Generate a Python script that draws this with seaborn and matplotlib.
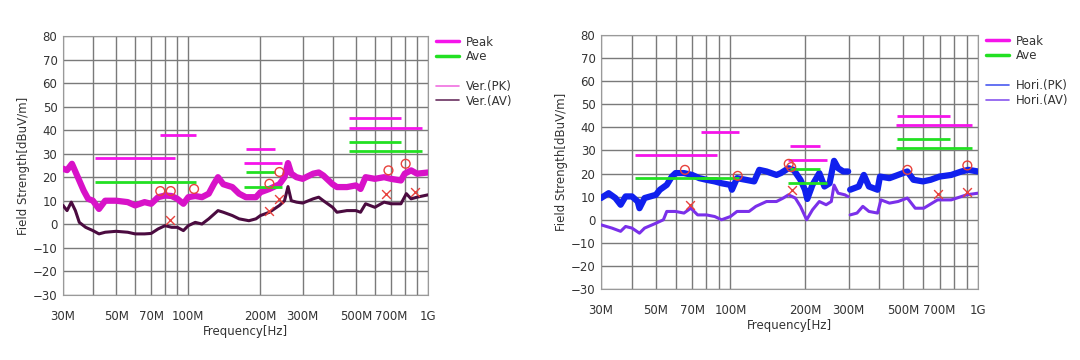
import numpy as np
import pandas as pd
import seaborn as sns
import matplotlib.pyplot as plt
from matplotlib.lines import Line2D

# ---- limit lines (MHz start, MHz stop, dBuV/m) ----
peak_lim_start = [41, 76, 174, 171, 470, 468]
peak_lim_stop = [88, 108, 230, 245, 770, 944]
peak_lim_level = [28, 38, 32, 26, 45, 41]
ave_lim_start = [41, 76, 174, 171, 470, 468]
ave_lim_stop = [88, 108, 230, 245, 770, 944]
ave_lim_level = [18, 18, 22, 16, 35, 31]

# ---- vertical polarisation traces ----
ver_pk_freq = [30, 31.2, 32.7, 34.6, 36.6, 38.2, 40, 42.4, 45, 50, 55.9, 60, 65.7,
               70, 74.8, 80, 85.2, 90, 95.4, 100, 106.9, 114, 121.7, 127.7, 133, 140,
               152.6, 162.9, 173.8, 191.5, 200, 218, 240, 252, 260.6, 269, 282.6,
               300, 332, 350, 366, 400, 417, 459, 500, 523, 549, 600, 656, 700,
               771, 800, 850, 900, 1000]
ver_pk_val = [23.6, 23, 25.7, 20, 14.3, 10.8, 10, 6.5, 10, 10, 9.4, 8, 9.4,
              8.7, 11.5, 12.2, 12, 10.8, 8.7, 11.5, 12, 11.5, 13, 17, 20, 17,
              15.8, 13, 11.5, 11.5, 13.6, 15, 17, 20, 26, 21.5, 20,
              19.3, 21.5, 22, 20.7, 17, 15.8, 15.8, 16.5, 15, 20, 19.3, 20, 19.3,
              18.6, 21.5, 22.9, 21.5, 22]
ver_av_freq = [30, 31.2, 32.5, 33.8, 35.1, 37.3, 40, 42.4, 45, 50, 55.9, 60, 65.7,
               70, 74.8, 80, 85.2, 90, 95.4, 100, 106.9, 114, 121.7, 133, 140,
               152.6, 162.9, 179, 191.5, 200, 218, 240, 252, 260.6, 269, 282.6,
               300, 332, 350, 366, 400, 417, 459, 500, 523, 549, 600, 656, 700,
               771, 812, 850, 900, 1000]
ver_av_val = [8, 5.8, 9.4, 5.8, 0.8, -1.3, -2.7, -4.1, -3.4, -3, -3.4, -4.1, -4.1,
              -3.9, -2, -0.6, -1.3, -1.3, -2.7, -0.6, 0.8, 0.1, 2.3, 5.8, 5.1,
              3.7, 2.3, 1.5, 2.3, 3.7, 5.1, 8, 10, 16, 10, 9.4,
              9, 10.8, 11.5, 10, 7.2, 5.1, 5.8, 5.8, 5.1, 8.7, 7.2, 9.4, 8.7,
              8.7, 13, 10.8, 11.5, 12.5]

# ---- horizontal polarisation traces (two scan ranges, break at 300M) ----
hor_pk_freq = [30, 32.2, 34.3, 36, 37.7, 40, 42.2, 42.9, 45, 50, 51.9, 55.3, 58,
               60, 64.9, 70, 74.9, 80, 86.4, 92.1, 100, 101.4, 106.3, 115.2, 124.7,
               130.8, 139.9, 153.5, 159.9, 171.6, 180, 191.8, 200, 204.4, 214.5,
               228.6, 239.8, 251.5, 262.2, 272.4, 285.7, 299,
               304.5, 330, 346, 362.8, 393, 402, 439, 475.7, 518.5, 549, 600,
               644, 700, 780, 858, 915, 1000]
hor_pk_val = [9.4, 11.5, 9.4, 6.5, 10.1, 10.1, 7.9, 5, 9.4, 10.8, 13, 15.1, 18.7,
              20.2, 20.2, 19.4, 18, 17.3, 16.6, 15.8, 15.1, 13, 18, 17.3, 16.6,
              21.6, 20.9, 19.4, 20.2, 22.3, 21.6, 17.3, 13, 9, 15.1,
              20.2, 14.4, 15.8, 25.5, 22.3, 20.9, 20.9,
              13, 14.4, 19.4, 14.4, 13, 18.7, 18, 19.4, 20.9, 17.3, 16.6,
              17.3, 18.7, 19.4, 20.9, 21.6, 20.9]
hor_pk_seg = [0] * 42 + [1] * 17
hor_av_freq = [30, 33.2, 36, 37.7, 40, 42.9, 45, 50, 53.6, 55.3, 60, 64.9, 69.2,
               73.7, 80, 86.4, 92.1, 100, 106.3, 118.9, 126.7, 139.9, 153.5, 163.5,
               171.6, 182.8, 191.8, 203.2, 214.5, 228.6, 243.6, 255.6, 262.2, 272.4,
               290, 299,
               304.5, 324.6, 342.7, 362.8, 393, 405.6, 439, 475.7, 518.5, 558,
               604, 686.6, 780, 900, 1000]
hor_av_val = [-2.2, -3.6, -5, -2.9, -3.6, -5.8, -3.6, -1.5, 0, 3.6, 3.6, 2.9, 5,
              2.1, 2.1, 1.4, 0, 1.4, 3.6, 3.6, 5.8, 7.9, 7.9, 9.4,
              10.8, 9.4, 5.8, 0, 4.3, 7.9, 6.5, 7.9, 15, 11.5,
              10.8, 10,
              2.1, 2.9, 5.8, 3.6, 2.9, 8.6, 7.2, 7.9, 9.4, 5,
              5, 8.6, 8.6, 10.8, 11.5]
hor_av_seg = [0] * 36 + [1] * 15

# ---- measured points ----
ver_qp_freq = [76.4, 84.5, 105.7, 218, 240, 684, 807]
ver_qp_val = [14.1, 14.1, 15, 17.2, 22.2, 22.9, 25.7]
ver_avpt_freq = [83.7, 218, 240, 668, 881]
ver_avpt_val = [1.8, 5.8, 10.8, 12.9, 13.6]
hor_qp_freq = [65.5, 107, 172, 176, 519, 906]
hor_qp_val = [21.6, 19, 24.2, 22.8, 21.6, 23.5]
hor_avpt_freq = [68.9, 177, 687, 900]
hor_avpt_val = [6.5, 13, 11.2, 12]

xtick_vals = [30, 50, 70, 100, 200, 300, 500, 700, 1000]
xtick_labels = ["30M", "50M", "70M", "100M", "200M", "300M", "500M", "700M", "1G"]
xgrid_vals = [30, 40, 50, 60, 70, 80, 90, 100, 200, 300, 400, 500, 600, 700, 800, 900, 1000]

PEAK_C = "#f514ea"
AVE_C = "#22e022"
MARK_C = "#e8413c"


def draw_panel(ax, pk, av, pk_color, av_color, pk_leg, av_leg, names, qp, avpt):
    for f in xgrid_vals:
        ax.axvline(f, color="#7a7a7a", lw=1.0, zorder=0)
    for v in range(-30, 81, 10):
        ax.axhline(v, color="#7a7a7a", lw=1.0, zorder=0)

    sns.lineplot(data=pk, x="f", y="v", units="seg", estimator=None, sort=False,
                 color=pk_color, lw=4.5, ax=ax, zorder=3)
    sns.lineplot(data=av, x="f", y="v", units="seg", estimator=None, sort=False,
                 color=av_color, lw=2.2, ax=ax, zorder=4)

    ax.hlines(peak_lim_level, peak_lim_start, peak_lim_stop, color=PEAK_C, lw=2, zorder=5)
    ax.hlines(ave_lim_level, ave_lim_start, ave_lim_stop, color=AVE_C, lw=2, zorder=5)

    sns.scatterplot(x=qp[0], y=qp[1], marker="o", s=40, facecolor="none",
                    edgecolor=MARK_C, linewidth=1.0, ax=ax, zorder=6)
    sns.scatterplot(x=avpt[0], y=avpt[1], marker="x", s=40, color=MARK_C,
                    linewidth=1.0, ax=ax, zorder=6)

    ax.set_xscale("log")
    ax.set_xlim(30, 1000)
    ax.set_ylim(-30, 80)
    ax.set_xticks(xtick_vals)
    ax.set_xticklabels(xtick_labels)
    ax.xaxis.set_minor_locator(plt.NullLocator())
    ax.set_yticks(range(-30, 81, 10))
    ax.tick_params(axis="x", length=0, labelsize=8.5, colors="#333333", pad=11)
    ax.tick_params(axis="y", length=0, labelsize=8.5, colors="#333333", pad=4)
    ax.set_xlabel("Frequency[Hz]", fontsize=8.5, color="#333333", labelpad=1)
    ax.set_ylabel("Field Strength[dBuV/m]", fontsize=8.5, color="#333333", labelpad=2)
    for sp in ax.spines.values():
        sp.set_color("#9a9a9a")

    handles = [Line2D([], [], color=PEAK_C, lw=2.5),
               Line2D([], [], color=AVE_C, lw=2.5),
               Line2D([], [], color="none"),
               Line2D([], [], color=pk_leg, lw=1.2),
               Line2D([], [], color=av_leg, lw=1.2)]
    labels = ["Peak", "Ave", " ", names[0], names[1]]
    ax.legend(handles, labels, loc="upper left", bbox_to_anchor=(1.01, 1.02),
              frameon=False, fontsize=8.5, handlelength=1.9, handletextpad=0.6,
              labelspacing=0.15, borderaxespad=0, labelcolor="#333333")


sns.set_style("white")
fig = plt.figure(figsize=(10.8, 3.6), dpi=100)
ax1 = fig.add_axes([0.0583, 0.181, 0.338, 0.719])
ax2 = fig.add_axes([0.5565, 0.197, 0.349, 0.706])

ver_pk = pd.DataFrame({"f": ver_pk_freq, "v": ver_pk_val, "seg": 0})
ver_av = pd.DataFrame({"f": ver_av_freq, "v": ver_av_val, "seg": 0})
hor_pk = pd.DataFrame({"f": hor_pk_freq, "v": hor_pk_val, "seg": hor_pk_seg})
hor_av = pd.DataFrame({"f": hor_av_freq, "v": hor_av_val, "seg": hor_av_seg})

draw_panel(ax1, ver_pk, ver_av, "#d812c8", "#4b0b40", "#f070e0", "#6a3060",
           ["Ver.(PK)", "Ver.(AV)"], (ver_qp_freq, ver_qp_val),
           (ver_avpt_freq, ver_avpt_val))
draw_panel(ax2, hor_pk, hor_av, "#1020ee", "#7a30ea", "#4a5af0", "#8855ee",
           ["Hori.(PK)", "Hori.(AV)"], (hor_qp_freq, hor_qp_val),
           (hor_avpt_freq, hor_avpt_val))

fig.savefig("out.png", dpi=100)
